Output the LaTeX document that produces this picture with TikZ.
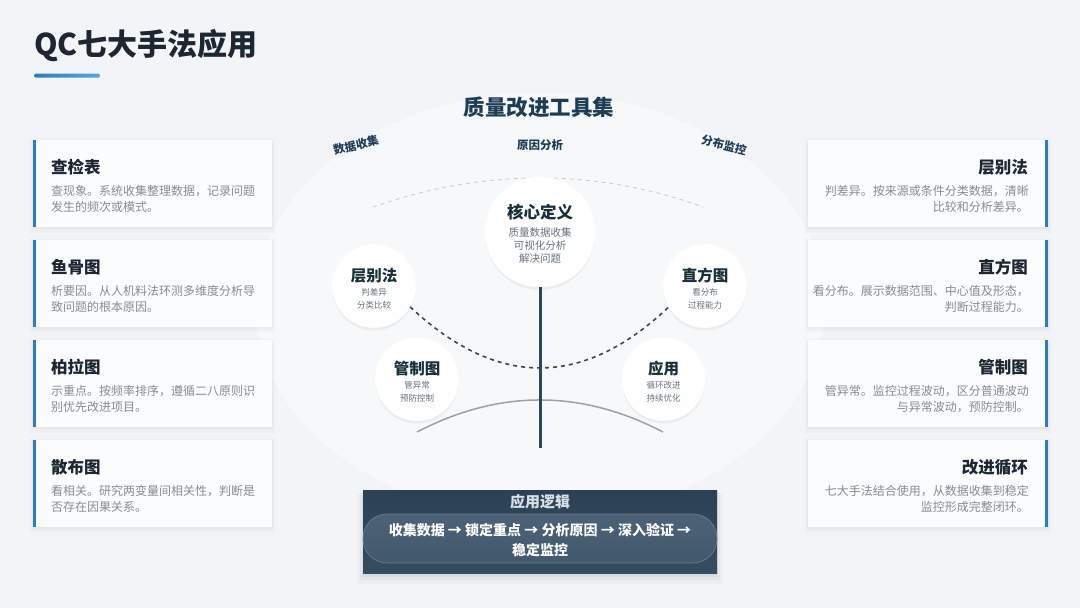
\documentclass[tikz,border=0pt]{standalone}
\usepackage{fontspec}
\setmainfont{Noto Sans CJK SC}
\usetikzlibrary{shadows}
\definecolor{bg}{HTML}{F2F4F7}
\definecolor{accent}{HTML}{2E7DBB}
\definecolor{accentlight}{HTML}{5BA5DA}
\definecolor{titledark}{HTML}{1E2631}
\definecolor{descgray}{HTML}{868C94}
\definecolor{navy}{HTML}{1D3D55}
\definecolor{circtitle}{HTML}{183039}
\definecolor{circsub}{HTML}{69727B}
\definecolor{stemcol}{HTML}{2A485B}
\definecolor{dashcol}{HTML}{3A4956}
\definecolor{arcgray}{HTML}{9AA1A8}
\definecolor{faintdash}{HTML}{C9CED4}
\definecolor{boxtop}{HTML}{2C4156}
\definecolor{boxbot}{HTML}{364C61}
\definecolor{pilltop}{HTML}{4D6276}
\definecolor{pillbot}{HTML}{42586C}
\definecolor{pillborder}{HTML}{6C7E90}
\definecolor{logictext}{HTML}{D9E0E7}

\newcommand\qcsoftshadow[4]{%
  \fill[black,opacity=0.012] (#1-4,#2-2) rectangle (#3+4,#4+6);
  \fill[black,opacity=0.015] (#1-2,#2-1) rectangle (#3+2,#4+4);
  \fill[black,opacity=0.02] (#1-1,#2) rectangle (#3+1,#4+2);
}
\newcommand\qcleftcard[5]{%
  \qcsoftshadow{33}{#1}{272}{#1+87}
  \fill[white!70!bg] (33,#1) rectangle (272,#1+87);
  \fill[accent] (33,#1) rectangle (36,#1+87);
  \node[cardtitle,anchor=base west] (#2t) at (51,#1+33) {#3};
  \node[carddesc,anchor=base west] (#2a) at (51,#1+55.5) {#4};
  \node[carddesc,anchor=base west] (#2b) at (51,#1+71.5) {#5};
}
\newcommand\qcrightcard[5]{%
  \qcsoftshadow{808}{#1}{1048}{#1+87}
  \fill[white!70!bg] (808,#1) rectangle (1048,#1+87);
  \fill[accent] (1045,#1) rectangle (1048,#1+87);
  \node[cardtitle,anchor=base east] (#2t) at (1028,#1+33) {#3};
  \node[carddesc,anchor=base east] (#2a) at (1029,#1+55.5) {#4};
  \node[carddesc,anchor=base east] (#2b) at (1029,#1+71.5) {#5};
}
\newcommand\qcbubble[6]{%
  \node[bubble,minimum size=83pt] (#1) at (#2,#3) {};
  \node[btitle,anchor=base] (#1t) at (#2,#3-5) {#4};
  \node[bsub,anchor=base] (#1a) at (#2,#3+9.2) {#5};
  \node[bsub,anchor=base] (#1b) at (#2,#3+22.2) {#6};
}

\begin{document}
\begin{tikzpicture}[x=1pt,y=-1pt,
  cardtitle/.style={font=\fontsize{16.5}{20}\selectfont\bfseries, text=titledark, inner sep=0pt},
  carddesc/.style={font=\fontsize{12}{14}\selectfont, text=descgray, inner sep=0pt},
  bubble/.style={circle, inner sep=0pt, top color=white, bottom color=white!93!bg,
    draw=white!90!bg, line width=0.6pt,
    drop shadow={opacity=0.08, shadow xshift=0pt, shadow yshift=-3pt, fill=black!60}},
  btitle/.style={font=\fontsize{15.5}{18}\selectfont\bfseries, text=circtitle, inner sep=0pt},
  bsub/.style={font=\fontsize{8.5}{10}\selectfont, text=circsub, inner sep=0pt},
  cat/.style={font=\fontsize{11.5}{14}\selectfont\bfseries, text=navy, inner sep=0pt},
  stem/.style={line width=3pt, draw=stemcol},
  dasharc/.style={line width=1.6pt, draw=dashcol, dash pattern=on 4pt off 4pt},
  graybow/.style={line width=1.5pt, draw=arcgray},
  faintarc/.style={line width=0.9pt, draw=faintdash, dash pattern=on 4pt off 4pt},
]
% background
\fill[bg] (0,0) rectangle (1080,608);
\fill[white,opacity=0.45] (540,305) ellipse [x radius=285, y radius=212];

% page title
\node[anchor=base west, font=\fontsize{30}{34}\selectfont\bfseries, text=titledark, inner sep=0pt] (title) at (34,55.5) {QC七大手法应用};
\shade[left color=accent, right color=accentlight, rounded corners=1.5pt] (34,73.5) rectangle (100,77.5);

% left cards
\qcleftcard{140}{la}{查检表}{查现象。系统收集整理数据，记录问题}{发生的频次或模式。}
\qcleftcard{240}{lb}{鱼骨图}{析要因。从人机料法环测多维度分析导}{致问题的根本原因。}
\qcleftcard{340}{lc}{柏拉图}{示重点。按频率排序，遵循二八原则识}{别优先改进项目。}
\qcleftcard{440}{ld}{散布图}{看相关。研究两变量间相关性，判断是}{否存在因果关系。}

% right cards
\qcrightcard{140}{ra}{层别法}{判差异。按来源或条件分类数据，清晰}{比较和分析差异。}
\qcrightcard{240}{rb}{直方图}{看分布。展示数据范围、中心值及形态，}{判断过程能力。}
\qcrightcard{340}{rc}{管制图}{管异常。监控过程波动，区分普通波动}{与异常波动，预防控制。}
\qcrightcard{440}{rd}{改进循环}{七大手法结合使用，从数据收集到稳定}{监控形成完整闭环。}

% center heading and categories
\node[anchor=base, font=\fontsize{21.5}{24}\selectfont\bfseries, text=navy, inner sep=0pt] (heading) at (539,115) {质量改进工具集};
\node[cat, rotate=14] (catA) at (356,145) {数据收集};
\node[cat] (catB) at (540,145) {原因分析};
\node[cat, rotate=-14] (catC) at (724,145) {分布监控};

% arcs
\coordinate (fa) at (373,207);
\coordinate (fb) at (703,207);
\draw[faintarc] (fa) .. controls (484,168.3) and (596,168.3) .. (fb);

\coordinate (ga) at (417,432);
\coordinate (gb) at (663,432);
\draw[graybow] (ga) .. controls (499,389.3) and (581,389.3) .. (gb);

% core bubble
\node[bubble,minimum size=110pt] (core) at (540,232) {};
\node[font=\fontsize{16.5}{20}\selectfont\bfseries, text=circtitle, inner sep=0pt, anchor=base] (coret) at (540,218.5) {核心定义};
\node[font=\fontsize{10.5}{12}\selectfont, text=circsub, inner sep=0pt, anchor=base] (corea) at (540,236) {质量数据收集};
\node[font=\fontsize{10.5}{12}\selectfont, text=circsub, inner sep=0pt, anchor=base] (coreb) at (540,249) {可视化分析};
\node[font=\fontsize{10.5}{12}\selectfont, text=circsub, inner sep=0pt, anchor=base] (corec) at (540,262) {解决问题};

\coordinate (stemend) at (540,448);

\qcbubble{ceng}{374}{286}{层别法}{判差异}{分类比较}
\qcbubble{zhi}{705}{286}{直方图}{看分布}{过程能力}

\draw[dasharc] (ceng.-30) .. controls (497,388.3) and (583,388.3) .. (zhi.210);
\draw[stem] (core.south) -- (stemend);

\qcbubble{guan}{417}{379}{管制图}{管异常}{预防控制}
\qcbubble{ying}{663.5}{379}{应用}{循环改进}{持续优化}

% bottom logic box with soft shadow
\fill[black,opacity=0.025] (357,494) rectangle (723,584);
\fill[black,opacity=0.03] (360,492) rectangle (720,580);
\fill[black,opacity=0.04] (362,491) rectangle (718,577);
\node[minimum width=354pt, minimum height=83pt, inner sep=0pt, top color=boxtop, bottom color=boxbot] (logic) at (540,531.5) {};
\node[anchor=base, font=\fontsize{15}{18}\selectfont\bfseries, text=logictext, inner sep=0pt] (logict) at (540,507.7) {应用逻辑};
\node[minimum width=354pt, minimum height=49pt, inner sep=0pt, rounded corners=24pt,
  top color=pilltop, bottom color=pillbot, draw=pillborder, line width=0.6pt] (pill) at (540,538.5) {};
\node[anchor=base, font=\fontsize{14}{18}\selectfont\bfseries, text=white, inner sep=0pt] (stepsa) at (540,535.3) {收集数据 → 锁定重点 → 分析原因 → 深入验证 →};
\node[anchor=base, font=\fontsize{14}{18}\selectfont\bfseries, text=white, inner sep=0pt] (stepsb) at (540,555.3) {稳定监控};
\end{tikzpicture}
\end{document}
